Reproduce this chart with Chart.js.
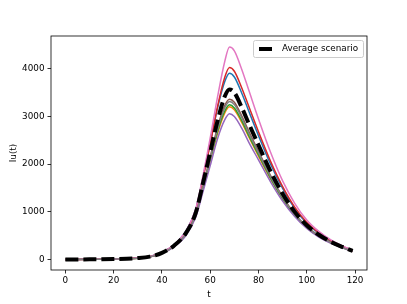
<!DOCTYPE html>
<html>
<head>
<meta charset="utf-8">
<script src="https://cdn.jsdelivr.net/npm/chart.js@4"></script>
<style>
  html, body { margin: 0; padding: 0; background: #fff; }
  #wrap { width: 407px; height: 304px; }
</style>
</head>
<body>
<div id="wrap"><canvas id="chart" width="407" height="304"></canvas></div>
<script>
// time points
const days = [0, 10, 20, 30, 35, 40, 45, 50, 54, 57, 60, 63, 66, 68, 70, 73, 76, 80, 85, 90, 95, 100, 105, 110, 115, 119];

// one run per scenario
const blueRun   = [0, 3, 10, 32, 65, 150, 310, 600, 1050, 1720, 2430, 3170, 3730, 3910, 3830, 3500, 3110, 2600, 2000, 1490, 1070, 760, 550, 385, 270, 185];
const orangeRun = [0, 3, 10, 29, 57, 132, 274, 530, 920, 1480, 2060, 2640, 3070, 3204, 3140, 2880, 2570, 2170, 1690, 1265, 925, 670, 485, 348, 246, 168];
const greenRun  = [0, 3, 10, 29, 58, 134, 277, 535, 930, 1500, 2090, 2680, 3110, 3246, 3180, 2920, 2600, 2200, 1710, 1280, 935, 675, 490, 350, 248, 170];
const redRun    = [0, 3, 10, 31, 63, 146, 302, 585, 1030, 1700, 2420, 3200, 3820, 4030, 3950, 3610, 3210, 2680, 2060, 1530, 1100, 780, 560, 395, 275, 190];
const purpleRun = [0, 3, 9, 28, 55, 128, 265, 510, 885, 1420, 1970, 2530, 2930, 3058, 3000, 2760, 2460, 2090, 1630, 1225, 900, 650, 472, 340, 240, 165];
const brownRun  = [0, 3, 10, 30, 59, 137, 283, 545, 950, 1540, 2150, 2770, 3230, 3365, 3300, 3020, 2690, 2270, 1760, 1320, 960, 690, 500, 360, 255, 175];
const pinkRun   = [0, 3, 10, 32, 65, 150, 310, 600, 1060, 1760, 2550, 3400, 4150, 4460, 4380, 4000, 3550, 2950, 2250, 1650, 1180, 830, 590, 410, 280, 195];
const grayRun   = [0, 3, 10, 29, 58, 135, 280, 540, 940, 1520, 2120, 2730, 3180, 3315, 3250, 2980, 2650, 2240, 1740, 1300, 950, 685, 495, 355, 250, 172];
const averageRun = [0, 3, 10, 30, 60, 140, 290, 560, 980, 1600, 2250, 2900, 3420, 3570, 3500, 3200, 2850, 2400, 1850, 1380, 1000, 720, 520, 370, 260, 180];

const xTicks = [0, 20, 40, 60, 80, 100, 120];
const yTicks = [0, 1000, 2000, 3000, 4000];

const FONT = "'DejaVu Sans', sans-serif";

function toPoints(values) {
  return values.map((v, i) => ({ x: days[i], y: v }));
}

function runDataset(values, color, order) {
  return {
    data: toPoints(values),
    borderColor: color,
    borderWidth: 1.5,
    pointRadius: 0,
    fill: false,
    cubicInterpolationMode: "monotone",
    order: order,
  };
}

// frame on all four sides + legend box in the upper right
const framePlugin = {
  id: "frame",
  afterDraw(chart) {
    const ctx = chart.ctx;
    const a = chart.chartArea;
    ctx.save();
    ctx.strokeStyle = "#000";
    ctx.lineWidth = 0.8;
    ctx.strokeRect(a.left, a.top, a.right - a.left, a.bottom - a.top);

    const bx = a.right - 114, by = a.top + 4, bw = 110, bh = 17;
    ctx.beginPath();
    ctx.roundRect(bx + 0.5, by + 0.5, bw, bh, 2);
    ctx.fillStyle = "rgba(255,255,255,0.8)";
    ctx.fill();
    ctx.strokeStyle = "#cccccc";
    ctx.lineWidth = 1;
    ctx.stroke();

    const ly = by + bh / 2 + 0.5;
    ctx.beginPath();
    ctx.setLineDash([13, 5]);
    ctx.moveTo(bx + 6, ly);
    ctx.lineTo(bx + 24, ly);
    ctx.strokeStyle = "#000";
    ctx.lineWidth = 4;
    ctx.stroke();
    ctx.setLineDash([]);

    ctx.fillStyle = "#000";
    ctx.font = "8.8px " + FONT;
    ctx.textBaseline = "middle";
    ctx.fillText("Average scenario", bx + 29, ly);
    ctx.restore();
  },
};

const tickGrid = {
  drawOnChartArea: false,
  drawTicks: true,
  tickLength: 3.5,
  color: "#000",
  lineWidth: 0.8,
};

new Chart(document.getElementById("chart"), {
  type: "line",
  data: {
    datasets: [
      {
        data: toPoints(averageRun),
        borderColor: "#000",
        borderWidth: 4,
        borderDash: [13, 5],
        borderCapStyle: "butt",
        pointRadius: 0,
        fill: false,
        cubicInterpolationMode: "monotone",
        order: 0,
      },
      runDataset(grayRun, "#7f7f7f", 1),
      runDataset(pinkRun, "#e377c2", 2),
      runDataset(brownRun, "#8c564b", 3),
      runDataset(purpleRun, "#9467bd", 4),
      runDataset(redRun, "#d62728", 5),
      runDataset(greenRun, "#2ca02c", 6),
      runDataset(orangeRun, "#ff7f0e", 7),
      runDataset(blueRun, "#1f77b4", 8),
    ],
  },
  options: {
    responsive: false,
    animation: false,
    events: [],
    layout: { padding: { top: 36, right: 40, left: 0, bottom: 0 } },
    plugins: {
      legend: { display: false },
      tooltip: { enabled: false },
    },
    scales: {
      x: {
        type: "linear",
        min: -5.95,
        max: 124.95,
        afterBuildTicks: (scale) => {
          scale.ticks = xTicks.map((v) => ({ value: v }));
        },
        afterFit: (scale) => {
          scale.height = 34;
        },
        grid: tickGrid,
        border: { display: false },
        ticks: {
          color: "#000",
          font: { family: FONT, size: 8.8 },
          padding: 2,
          maxRotation: 0,
          callback: (v) => String(v),
        },
        title: {
          display: true,
          text: "t",
          color: "#000",
          font: { family: FONT, size: 8.8 },
          padding: { top: 0, bottom: 4 },
        },
      },
      y: {
        type: "linear",
        min: -220,
        max: 4690,
        afterBuildTicks: (scale) => {
          scale.ticks = yTicks.map((v) => ({ value: v }));
        },
        afterFit: (scale) => {
          scale.width = 51;
        },
        grid: tickGrid,
        border: { display: false },
        ticks: {
          color: "#000",
          font: { family: FONT, size: 8.8 },
          padding: 3,
          callback: (v) => String(v),
        },
        title: {
          display: true,
          text: "Iu(t)",
          color: "#000",
          font: { family: FONT, size: 8.8 },
          padding: { top: 8, bottom: 0 },
        },
      },
    },
  },
  plugins: [framePlugin],
});
</script>
</body>
</html>
